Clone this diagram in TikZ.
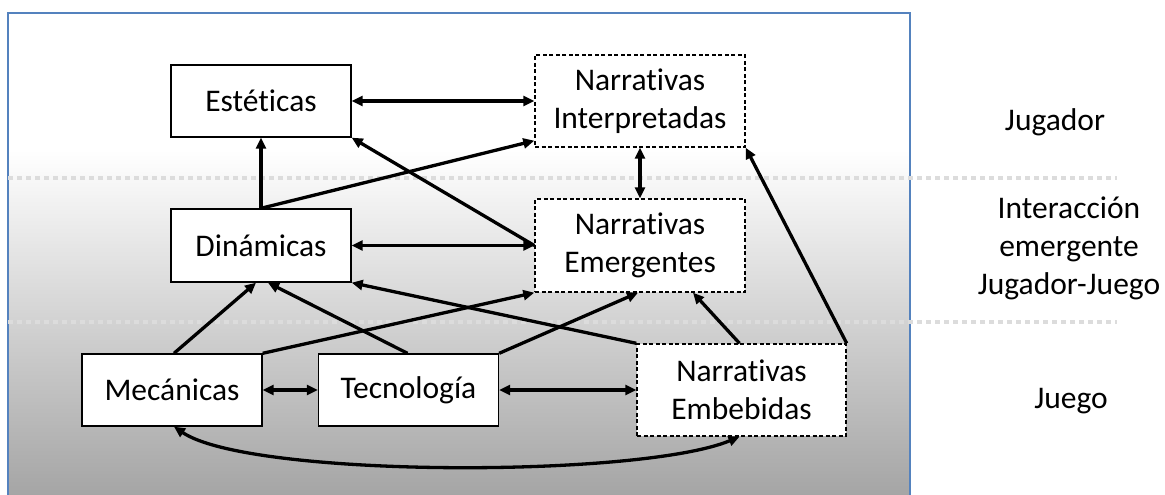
\documentclass[tikz,border=0pt]{standalone}
\usepackage{fontspec}
\setmainfont{Carlito}[Ligatures=NoCommon]
\usetikzlibrary{arrows.meta,calc}
\definecolor{panelblue}{RGB}{84,130,190}
\definecolor{shadegray}{RGB}{165,165,165}
\definecolor{sepgray}{RGB}{220,220,220}
\tikzset{
  box/.style={draw=black, line width=1.4pt, fill=white, inner sep=0pt, align=center,
    font=\fontsize{31.5}{38.5}\selectfont},
  solidbox/.style={box, minimum width=180pt, minimum height=72pt},
  narrbox/.style={box, dash pattern=on 4pt off 2.5pt, minimum width=210pt, minimum height=92pt},
  link/.style={line width=3.3pt, -{Triangle[length=11pt,width=10pt]}},
  twoway/.style={line width=3.3pt, {Triangle[length=11pt,width=10pt]}-{Triangle[length=11pt,width=10pt]}},
  sep/.style={draw=sepgray, line width=3.5pt, dash pattern=on 4.5pt off 4.5pt},
  side/.style={align=center, font=\fontsize{31.5}{38}\selectfont}
}
\begin{document}
\begin{tikzpicture}[x=1pt, y=-1pt]
  \useasboundingbox (0,0) rectangle (1165,495);
  % background panel: white top, grey gradient towards the bottom
  \fill[white] (8,13) rectangle (910,151);
  \shade[top color=white, bottom color=shadegray] (8,150) rectangle (910,495);
  \draw[panelblue, line width=1.2pt] (8,495) -- (8,13) -- (910,13) -- (910,495);

  % layer separators
  \draw[sep] (8,178) -- (1117,178);
  \draw[sep] (8,322) -- (1117,322);

  % layer names
  \node[side] (lplayer) at (1055,122) {Jugador};
  \node[side] (linter) at (1069,248) {Interacción\\emergente\\Jugador-Juego};
  \node[side] (lgame) at (1071,401) {Juego};

  % elements
  \node[solidbox] (est) at (261,101) {Estéticas};
  \node[narrbox]  (ni)  at (640,101) {Narrativas\\Interpretadas};
  \node[solidbox, minimum height=73pt] (din) at (261,245.5) {Dinámicas};
  \node[narrbox, minimum height=93pt]  (ne)  at (640,245.5) {Narrativas\\Emergentes};
  \node[solidbox] (mec) at (172,390) {Mecánicas};
  \node[solidbox] (tec) at (408.5,390) {Tecnología};
  \node[narrbox, minimum width=209pt] (emb) at (741.5,390) {Narrativas\\Embebidas};

  % horizontal two-way links
  \draw[twoway] (est.east) -- (ni.west);
  \draw[twoway] (din.east) -- (ne.west);
  \draw[twoway] (mec.east) -- (tec.west);
  \draw[twoway] (tec.east) -- (emb.west);
  \draw[twoway] (ni.south) -- (ne.north);

  % links out of Dinámicas
  \draw[link] (din.north) -- (est.south);
  \draw[link] (din.north) -- ($(ni.south west)+(0,-7)$);
  \draw[link] (ne.west) -- (est.south east);

  % links into Dinámicas
  \draw[link] ($(mec.north)+(2,0)$) -- ($(din.south)+(-5,0)$);
  \draw[link] ($(tec.north)+(-1,0)$) -- ($(din.south)+(7,0)$);
  \draw[link] (emb.north west) -- (din.south east);

  % links into the emergent narratives
  \draw[link] (mec.north east) -- (ne.south west);
  \draw[link] (tec.north east) -- ($(ne.south)+(-2,0)$);
  \draw[link] ($(emb.north)+(-2,0)$) -- ($(ne.south)+(53,0)$);

  % embedded narratives up to the interpreted ones
  \draw[link] (emb.north east) -- (ni.south east);

  % mechanics <-> embedded narratives
  \draw[twoway] ($(mec.south)+(2,0)$) .. controls (250,478) and (640,478) .. ($(emb.south)+(-2,0)$);
\end{tikzpicture}
\end{document}
